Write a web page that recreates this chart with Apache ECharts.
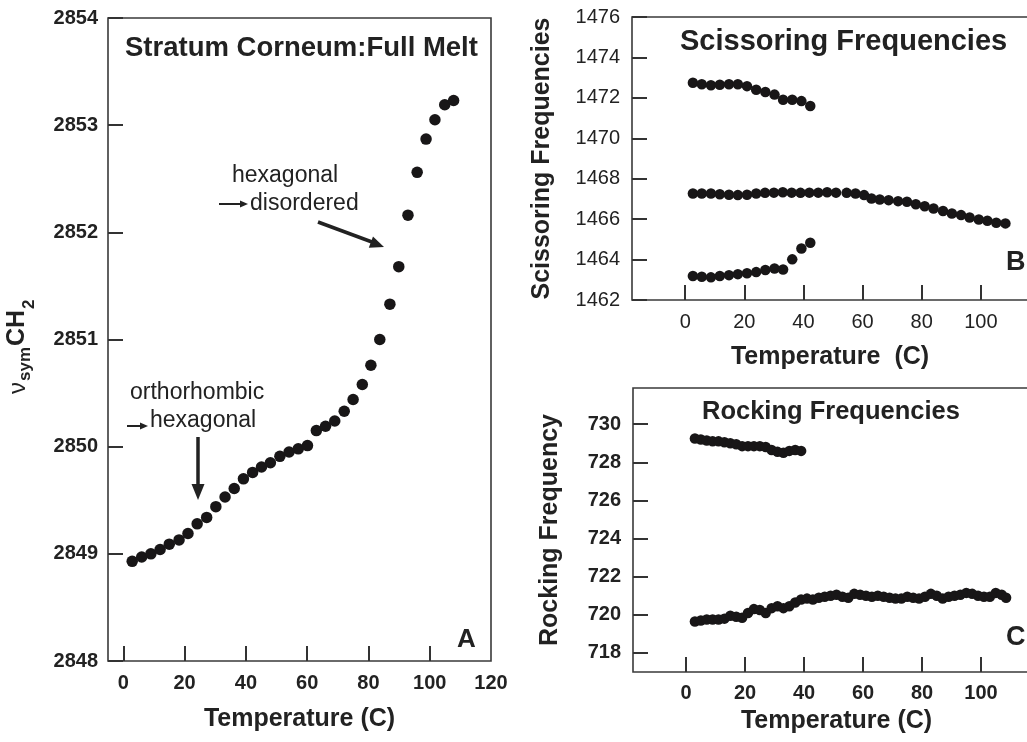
<!DOCTYPE html>
<html>
<head>
<meta charset="utf-8">
<script src="https://cdn.jsdelivr.net/npm/echarts@6/dist/echarts.min.js"></script>
<style>html,body{margin:0;padding:0;background:#fff;}#chart{width:1027px;height:742px;}</style>
</head>
<body>
<div id="chart"></div>
<script>
// ---- Panel A: nu_sym CH2 vs temperature ----
const tempA = [2.9, 6.0, 9.0, 12.0, 15.0, 18.2, 21.1, 24.1, 27.2, 30.2, 33.2, 36.2, 39.2, 42.2, 45.1, 48.0, 51.1, 54.1, 57.1, 60.1, 63.0, 66.0, 69.0, 72.1, 75.0, 78.0, 80.8, 83.7, 87.0, 89.9, 92.9, 95.9, 98.8, 101.7, 104.9, 107.8];
const nuA = [2848.93, 2848.97, 2849.00, 2849.04, 2849.09, 2849.13, 2849.19, 2849.28, 2849.34, 2849.44, 2849.53, 2849.61, 2849.70, 2849.76, 2849.81, 2849.85, 2849.91, 2849.95, 2849.98, 2850.01, 2850.15, 2850.19, 2850.24, 2850.33, 2850.44, 2850.58, 2850.76, 2851.00, 2851.33, 2851.68, 2852.16, 2852.56, 2852.87, 2853.05, 2853.19, 2853.23];

// ---- Panel B: scissoring frequencies ----
const tempBTop = [2.6, 5.6, 8.7, 11.7, 14.8, 17.8, 20.9, 24.0, 27.1, 30.2, 33.1, 36.2, 39.3, 42.3];
const sciBTop = [1472.75, 1472.67, 1472.62, 1472.65, 1472.67, 1472.67, 1472.58, 1472.40, 1472.29, 1472.16, 1471.91, 1471.91, 1471.84, 1471.60];
const tempBMid = [2.6, 5.6, 8.7, 11.7, 14.8, 17.8, 20.9, 24.0, 27.0, 30.0, 33.0, 36.0, 39.0, 42.0, 45.0, 48.0, 51.0, 54.6, 57.6, 60.5, 63.0, 65.8, 68.8, 72.0, 75.0, 78.0, 81.0, 84.0, 87.2, 90.2, 93.3, 96.2, 99.3, 102.2, 105.2, 108.3];
const sciBMid = [1467.27, 1467.27, 1467.27, 1467.23, 1467.21, 1467.19, 1467.21, 1467.27, 1467.30, 1467.31, 1467.33, 1467.31, 1467.30, 1467.31, 1467.31, 1467.33, 1467.31, 1467.30, 1467.27, 1467.19, 1467.02, 1466.97, 1466.94, 1466.89, 1466.86, 1466.74, 1466.64, 1466.53, 1466.40, 1466.28, 1466.20, 1466.08, 1465.98, 1465.92, 1465.82, 1465.79];
const tempBLow = [2.6, 5.6, 8.7, 11.7, 14.8, 17.8, 20.9, 24.0, 27.1, 30.2, 33.1, 36.2, 39.3, 42.3];
const sciBLow = [1463.19, 1463.15, 1463.12, 1463.19, 1463.23, 1463.28, 1463.32, 1463.38, 1463.48, 1463.56, 1463.51, 1464.01, 1464.55, 1464.83];

// ---- Panel C: rocking frequencies ----
const tempCTop = [3, 5, 7, 9, 11, 13, 15, 17, 19, 21, 23, 25, 27, 29, 31, 33, 35, 37, 39];
const rockCTop = [729.25, 729.2, 729.15, 729.1, 729.1, 729.05, 729.0, 728.95, 728.85, 728.85, 728.85, 728.85, 728.8, 728.65, 728.55, 728.5, 728.6, 728.65, 728.6];
const tempCLow = [3, 5, 7, 9, 11, 13, 15, 17, 19, 21, 23, 25, 27, 29, 31, 33, 35, 37, 39, 41, 43, 45, 47, 49, 51, 53, 55, 57, 59, 61, 63, 65, 67, 69, 71, 73, 75, 77, 79, 81, 83, 85, 87, 89, 91, 93, 95, 97, 99, 101, 103, 105, 107, 108.5];
const rockCLow = [719.65, 719.7, 719.75, 719.75, 719.75, 719.8, 719.95, 719.9, 719.85, 720.1, 720.3, 720.25, 720.1, 720.35, 720.45, 720.35, 720.45, 720.65, 720.8, 720.85, 720.8, 720.9, 720.95, 721.0, 721.05, 720.95, 720.9, 721.1, 721.05, 721.0, 720.95, 721.0, 720.95, 720.9, 720.85, 720.85, 720.95, 720.9, 720.85, 720.95, 721.1, 721.0, 720.85, 720.95, 721.0, 721.05, 721.15, 721.1, 721.0, 720.95, 720.95, 721.15, 721.05, 720.9];

// ---- tick values ----
const ticksAX = [0, 20, 40, 60, 80, 100];
const labelsAX = [0, 20, 40, 60, 80, 100, 120];
const ticksBCX = [0, 20, 40, 60, 80, 100];
const ticksCY = [718, 720, 722, 724, 726, 728, 730];

const FONT = "'Liberation Sans', Arial, Helvetica, sans-serif";
const INK = '#181617';
const plain = v => String(v);
const pairs = (xs, ys) => xs.map((x, i) => [x, ys[i]]);

const chart = echarts.init(document.getElementById('chart'), null, { renderer: 'canvas' });

const gridStyle = { show: true, borderColor: '#3a3a3a', borderWidth: 1.6, backgroundColor: 'transparent', containLabel: false, outerBoundsMode: 'none' };
const tickStyle = { show: true, inside: true, length: 15, lineStyle: { color: '#333', width: 2 } };
const noLine = { show: false, onZero: false };

function xAxis(gridIndex, min, max, ticks, labels, bold, margin, name, nameGap, namePad) {
  return {
    type: 'value', gridIndex, min, max,
    axisLine: noLine,
    splitLine: { show: false },
    axisTick: Object.assign({}, tickStyle, { customValues: ticks }),
    axisLabel: { customValues: labels, formatter: plain, margin, fontFamily: FONT, fontSize: 20, fontWeight: bold ? 'bold' : 'normal', color: '#222' },
    name, nameLocation: 'middle', nameGap,
    nameTextStyle: { fontFamily: FONT, fontSize: 25, fontWeight: 'bold', color: '#222', padding: namePad || 0 }
  };
}

const dot = { color: INK, opacity: 1 };

const option = {
  animation: false,
  backgroundColor: '#fff',
  grid: [
    Object.assign({ left: 108, top: 18, width: 383, height: 643 }, gridStyle),
    Object.assign({ left: 632, top: 17, width: 408, height: 283 }, gridStyle),
    Object.assign({ left: 633, top: 388, width: 407, height: 284 }, gridStyle)
  ],
  xAxis: [
    xAxis(0, -5, 120, ticksAX, labelsAX, true, 12, 'Temperature (C)', 46),
    xAxis(1, -18, 120, ticksBCX, ticksBCX, false, 12, 'Temperature  (C)', 45, [0, 12, 0, 0]),
    xAxis(2, -18, 120, ticksBCX, ticksBCX, true, 11, 'Temperature (C)', 37)
  ],
  yAxis: [
    {
      type: 'value', gridIndex: 0, min: 2848, max: 2854, interval: 1,
      axisLine: noLine, splitLine: { show: false },
      axisTick: tickStyle,
      axisLabel: { formatter: plain, margin: 10, fontFamily: FONT, fontSize: 20, fontWeight: 'bold', color: '#222' }
    },
    {
      type: 'value', gridIndex: 1, min: 1462, max: 1476, interval: 2,
      axisLine: noLine, splitLine: { show: false },
      axisTick: tickStyle,
      axisLabel: { formatter: plain, margin: 12, fontFamily: FONT, fontSize: 20, fontWeight: 'normal', color: '#222' },
      name: 'Scissoring Frequencies', nameLocation: 'middle', nameGap: 77,
      nameTextStyle: { fontFamily: FONT, fontSize: 25, fontWeight: 'bold', color: '#222' }
    },
    {
      type: 'value', gridIndex: 2, min: 717, max: 731.9,
      axisLine: noLine, splitLine: { show: false },
      axisTick: Object.assign({}, tickStyle, { customValues: ticksCY }),
      axisLabel: { customValues: ticksCY, formatter: plain, margin: 12, fontFamily: FONT, fontSize: 20, fontWeight: 'bold', color: '#222' },
      name: 'Rocking Frequency', nameLocation: 'middle', nameGap: 70,
      nameTextStyle: { fontFamily: FONT, fontSize: 25, fontWeight: 'bold', color: '#222' }
    }
  ],
  series: [
    { type: 'scatter', xAxisIndex: 0, yAxisIndex: 0, symbolSize: 11.5, itemStyle: dot, data: pairs(tempA, nuA) },
    { type: 'scatter', xAxisIndex: 1, yAxisIndex: 1, symbolSize: 10.5, itemStyle: dot, data: pairs(tempBTop, sciBTop) },
    { type: 'scatter', xAxisIndex: 1, yAxisIndex: 1, symbolSize: 10.5, itemStyle: dot, data: pairs(tempBMid, sciBMid) },
    { type: 'scatter', xAxisIndex: 1, yAxisIndex: 1, symbolSize: 10.5, itemStyle: dot, data: pairs(tempBLow, sciBLow) },
    { type: 'scatter', xAxisIndex: 2, yAxisIndex: 2, symbolSize: 10.5, itemStyle: dot, data: pairs(tempCTop, rockCTop) },
    { type: 'scatter', xAxisIndex: 2, yAxisIndex: 2, symbolSize: 10.5, itemStyle: dot, data: pairs(tempCLow, rockCLow) }
  ],
  graphic: [
    // panel titles and letters
    { type: 'text', x: 125, y: 48, style: { text: 'Stratum Corneum:Full Melt', font: 'bold 27.5px ' + FONT, fill: '#222', verticalAlign: 'middle' } },
    { type: 'text', x: 680, y: 42, style: { text: 'Scissoring Frequencies', font: 'bold 29px ' + FONT, fill: '#222', verticalAlign: 'middle' } },
    { type: 'text', x: 702, y: 412, style: { text: 'Rocking Frequencies', font: 'bold 25.5px ' + FONT, fill: '#222', verticalAlign: 'middle' } },
    { type: 'text', x: 457, y: 640, style: { text: 'A', font: 'bold 26px ' + FONT, fill: '#222', verticalAlign: 'middle' } },
    { type: 'text', x: 1006, y: 263, style: { text: 'B', font: 'bold 27px ' + FONT, fill: '#222', verticalAlign: 'middle' } },
    { type: 'text', x: 1006, y: 638, style: { text: 'C', font: 'bold 27px ' + FONT, fill: '#222', verticalAlign: 'middle' } },
    // annotations panel A
    { type: 'text', x: 232, y: 176, style: { text: 'hexagonal', font: '23px ' + FONT, fill: '#222', verticalAlign: 'middle' } },
    { type: 'text', x: 250, y: 204, style: { text: 'disordered', font: '23px ' + FONT, fill: '#222', verticalAlign: 'middle' } },
    { type: 'line', shape: { x1: 219, y1: 204, x2: 241, y2: 204 }, style: { stroke: '#222', lineWidth: 2 } },
    { type: 'polygon', shape: { points: [[248, 204], [240, 200.5], [240, 207.5]] }, style: { fill: '#222' } },
    { type: 'line', shape: { x1: 318, y1: 222, x2: 372, y2: 242 }, style: { stroke: '#222', lineWidth: 3.5 } },
    { type: 'polygon', shape: { points: [[384, 247], [373, 236.6], [368.8, 247.8]] }, style: { fill: '#222' } },
    { type: 'text', x: 130, y: 393, style: { text: 'orthorhombic', font: '23px ' + FONT, fill: '#222', verticalAlign: 'middle' } },
    { type: 'text', x: 150, y: 421, style: { text: 'hexagonal', font: '23px ' + FONT, fill: '#222', verticalAlign: 'middle' } },
    { type: 'line', shape: { x1: 127, y1: 426, x2: 141, y2: 426 }, style: { stroke: '#222', lineWidth: 2 } },
    { type: 'polygon', shape: { points: [[148, 426], [140, 422.5], [140, 429.5]] }, style: { fill: '#222' } },
    { type: 'line', shape: { x1: 198, y1: 437, x2: 198, y2: 487 }, style: { stroke: '#222', lineWidth: 3.5 } },
    { type: 'polygon', shape: { points: [[198, 500], [191.5, 484], [204.5, 484]] }, style: { fill: '#222' } },
    // y axis title panel A: nu_sym CH_2 (rotated)
    {
      type: 'group', x: 30, y: 394, rotation: Math.PI / 2,
      children: [
        { type: 'text', x: 0, y: 0, style: { text: 'ν', font: '24px ' + FONT, fill: '#222', verticalAlign: 'bottom' } },
        { type: 'text', x: 13, y: 4, style: { text: 'sym', font: 'bold 17px ' + FONT, fill: '#222', verticalAlign: 'bottom' } },
        { type: 'text', x: 48, y: 0, style: { text: 'CH', font: 'bold 25px ' + FONT, fill: '#222', verticalAlign: 'bottom' } },
        { type: 'text', x: 85, y: 8, style: { text: '2', font: 'bold 17px ' + FONT, fill: '#222', verticalAlign: 'bottom' } }
      ]
    }
  ]
};
chart.setOption(option);
</script>
</body>
</html>
